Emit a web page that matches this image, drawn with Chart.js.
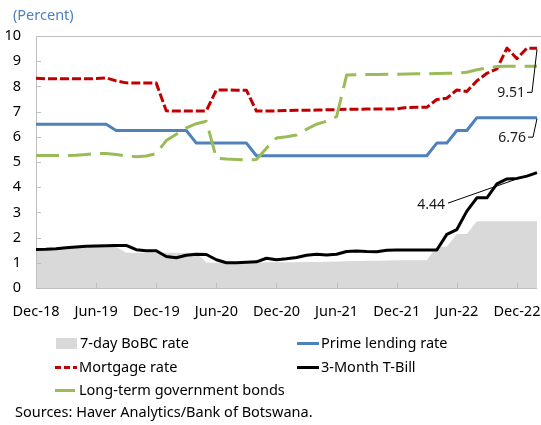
<!DOCTYPE html>
<html>
<head>
<meta charset="utf-8">
<title>Botswana interest rates</title>
<style>
  html, body { margin: 0; padding: 0; background: #ffffff; }
  #wrap { position: relative; width: 541px; height: 425px; overflow: hidden; }
  canvas { display: block; }
</style>
<script src="https://cdn.jsdelivr.net/npm/chart.js@4/dist/chart.umd.min.js"></script>
</head>
<body>
<div id="wrap"><canvas id="chart" width="541" height="425"></canvas></div>
<script>
// Monthly observations, Dec-2018 to Feb-2023 (percent)
const months = [
  'Dec-18',
  'Jan-19','Feb-19','Mar-19','Apr-19','May-19','Jun-19','Jul-19','Aug-19','Sep-19','Oct-19','Nov-19','Dec-19',
  'Jan-20','Feb-20','Mar-20','Apr-20','May-20','Jun-20','Jul-20','Aug-20','Sep-20','Oct-20','Nov-20','Dec-20',
  'Jan-21','Feb-21','Mar-21','Apr-21','May-21','Jun-21','Jul-21','Aug-21','Sep-21','Oct-21','Nov-21','Dec-21',
  'Jan-22','Feb-22','Mar-22','Apr-22','May-22','Jun-22','Jul-22','Aug-22','Sep-22','Oct-22','Nov-22','Dec-22',
  'Jan-23','Feb-23'
];

const bobcRate = [
  1.53, 1.55, 1.57, 1.60, 1.62, 1.63, 1.64, 1.64, 1.64, 1.40,
  1.40, 1.40, 1.40, 1.40, 1.40, 1.40, 1.40, 1.01, 1.00, 1.00,
  1.00, 1.01, 1.01, 1.02, 1.02, 1.02, 1.02, 1.03, 1.03, 1.04,
  1.05, 1.06, 1.07, 1.08, 1.08, 1.09, 1.10, 1.10, 1.10, 1.10,
  1.64, 1.64, 2.14, 2.14, 2.65, 2.65, 2.65, 2.65, 2.65, 2.65, 2.65
];

const primeRate = [
  6.50, 6.50, 6.50, 6.50, 6.50, 6.50, 6.50, 6.50, 6.25, 6.25,
  6.25, 6.25, 6.25, 6.25, 6.25, 6.25, 5.75, 5.75, 5.75, 5.75,
  5.75, 5.75, 5.25, 5.25, 5.25, 5.25, 5.25, 5.25, 5.25, 5.25,
  5.25, 5.25, 5.25, 5.25, 5.25, 5.25, 5.25, 5.25, 5.25, 5.25,
  5.75, 5.75, 6.25, 6.25, 6.76, 6.76, 6.76, 6.76, 6.76, 6.76, 6.76
];

const mortgageRate = [
  8.32, 8.30, 8.30, 8.30, 8.30, 8.30, 8.31, 8.34, 8.22, 8.14,
  8.13, 8.13, 8.13, 7.03, 7.02, 7.02, 7.02, 7.03, 7.86, 7.86,
  7.85, 7.85, 7.02, 7.02, 7.03, 7.04, 7.05, 7.05, 7.06, 7.07,
  7.08, 7.09, 7.09, 7.10, 7.10, 7.10, 7.11, 7.16, 7.17, 7.17,
  7.48, 7.53, 7.86, 7.80, 8.22, 8.52, 8.70, 9.52, 9.10, 9.52, 9.51
];

const tBill3m = [
  1.53, 1.54, 1.56, 1.60, 1.63, 1.66, 1.67, 1.68, 1.69, 1.69,
  1.52, 1.48, 1.48, 1.25, 1.20, 1.30, 1.34, 1.33, 1.12, 1.00,
  1.00, 1.02, 1.04, 1.18, 1.12, 1.16, 1.21, 1.30, 1.34, 1.31,
  1.34, 1.45, 1.47, 1.45, 1.44, 1.50, 1.51, 1.51, 1.51, 1.51,
  1.51, 2.13, 2.32, 3.05, 3.58, 3.58, 4.13, 4.33, 4.35, 4.44, 4.58
];

const longTermBonds = [
  5.26, 5.26, 5.26, 5.26, 5.27, 5.30, 5.33, 5.34, 5.30, 5.24,
  5.21, 5.24, 5.33, 5.85, 6.10, 6.35, 6.52, 6.62, 5.15, 5.12,
  5.10, 5.08, 5.10, 5.55, 5.95, 6.00, 6.07, 6.30, 6.50, 6.62,
  6.80, 8.45, 8.46, 8.47, 8.47, 8.48, 8.48, 8.49, 8.50, 8.50,
  8.51, 8.52, 8.53, 8.56, 8.66, 8.73, 8.79, 8.80, 8.80, 8.80, 8.80
];

const xTickLabels = ['Dec-18','Jun-19','Dec-19','Jun-20','Dec-20','Jun-21','Dec-21','Jun-22','Dec-22'];
const yTickMin = 0;
const yTickMax = 10;
const yTickStep = 1;

const FONT = '"Noto Sans", "Open Sans", sans-serif';
const AXIS_GREY = '#bfbfbf';
const TEXT = '#000000';

const COLORS = {
  bobc: '#d9d9d9',
  prime: '#4f81bd',
  mortgage: '#c00000',
  tbill: '#000000',
  bonds: '#9bbb59'
};

// Plot frame: top rule, axis lines and short inward tick marks.
// Drawn right after the shaded area so the lines sit above it.
const framePlugin = {
  id: 'frame',
  afterDatasetDraw(chart, args) {
    if (args.index !== 0) return;
    const { ctx, chartArea: a, scales: { x, y } } = chart;
    ctx.save();
    ctx.strokeStyle = AXIS_GREY;
    ctx.lineWidth = 1;
    ctx.beginPath();
    const top = Math.round(a.top) + 0.5;
    const left = Math.round(a.left) + 0.5;
    const bottom = Math.round(a.bottom) + 0.5;
    ctx.moveTo(a.left, top); ctx.lineTo(chart.width, top);
    ctx.moveTo(left, a.top); ctx.lineTo(left, a.bottom);
    ctx.moveTo(a.left, bottom); ctx.lineTo(a.right, bottom);
    y.ticks.forEach((t, i) => {
      const py = Math.round(y.getPixelForTick(i)) + 0.5;
      ctx.moveTo(a.left, py); ctx.lineTo(a.left + 5, py);
    });
    x.ticks.forEach((t, i) => {
      if (!xTickLabels.includes(months[i])) return;
      const px = Math.round(x.getPixelForTick(i)) + 0.5;
      ctx.moveTo(px, a.bottom); ctx.lineTo(px, a.bottom - 5);
    });
    ctx.stroke();
    ctx.restore();
  }
};

// End-of-series value labels with thin leader lines.
const valueLabels = [
  { dataset: 2, point: 50, dx: -12, dy: 45, style: 'elbow' },
  { dataset: 1, point: 50, dx: -11, dy: 20.5, style: 'elbow' },
  { dataset: 3, point: 49, dx: -82, dy: 29, style: 'straight' }
];

const labelPlugin = {
  id: 'valueLabels',
  afterDatasetsDraw(chart) {
    const { ctx } = chart;
    ctx.save();
    ctx.font = '14px ' + FONT;
    ctx.fillStyle = '#1a1a1a';
    ctx.strokeStyle = '#000000';
    ctx.lineWidth = 1;
    ctx.textAlign = 'right';
    ctx.textBaseline = 'middle';
    valueLabels.forEach(l => {
      const el = chart.getDatasetMeta(l.dataset).data[l.point];
      const v = chart.data.datasets[l.dataset].data[l.point];
      const tx = el.x + l.dx;
      const ty = el.y + l.dy;
      ctx.fillText(v.toFixed(2), tx, ty);
      ctx.beginPath();
      if (l.style === 'elbow') {
        ctx.moveTo(tx + 2, ty - 1);
        ctx.lineTo(tx + 7, ty - 1);
        ctx.lineTo(el.x, el.y + 1);
      } else {
        ctx.moveTo(tx + 3, ty - 2);
        ctx.lineTo(el.x - 2, el.y);
      }
      ctx.stroke();
    });
    ctx.restore();
  }
};

// Unit note, legend and source line.
const legendItems = [
  { dataset: 0, kind: 'box',  x: 56,  y: 343.5 },
  { dataset: 1, kind: 'line', x: 297, y: 343.5, len: 22 },
  { dataset: 2, kind: 'line', x: 55,  y: 367.5, len: 22, dash: [6, 3] },
  { dataset: 3, kind: 'line', x: 297, y: 367.5, len: 22 },
  { dataset: 4, kind: 'line', x: 55,  y: 390.5, len: 20 }
];

const notesPlugin = {
  id: 'notes',
  afterDraw(chart) {
    const { ctx } = chart;
    ctx.save();
    ctx.textBaseline = 'middle';
    ctx.textAlign = 'left';
    ctx.font = '14.5px ' + FONT;

    ctx.fillStyle = '#4f81bd';
    ctx.fillText('(Percent)', 13, 16);

    legendItems.forEach(it => {
      const ds = chart.data.datasets[it.dataset];
      if (it.kind === 'box') {
        ctx.fillStyle = ds.backgroundColor;
        ctx.fillRect(it.x, it.y - 5.5, 21, 11);
      } else {
        ctx.strokeStyle = ds.borderColor;
        ctx.lineWidth = 3;
        ctx.setLineDash(it.dash || []);
        ctx.beginPath();
        ctx.moveTo(it.x, it.y);
        ctx.lineTo(it.x + it.len, it.y);
        ctx.stroke();
        ctx.setLineDash([]);
      }
      ctx.fillStyle = TEXT;
      ctx.fillText(ds.label, it.x + 24, it.y);
    });

    ctx.fillStyle = TEXT;
    ctx.fillText('Sources: Haver Analytics/Bank of Botswana.', 15, 413);
    ctx.restore();
  }
};

new Chart(document.getElementById('chart').getContext('2d'), {
  type: 'line',
  data: {
    labels: months,
    datasets: [
      {
        label: '7-day BoBC rate', data: bobcRate,
        fill: 'origin', backgroundColor: COLORS.bobc,
        borderColor: 'rgba(0,0,0,0)', borderWidth: 0, order: 5
      },
      {
        label: 'Prime lending rate', data: primeRate,
        borderColor: COLORS.prime, borderWidth: 3, fill: false, order: 4
      },
      {
        label: 'Mortgage rate', data: mortgageRate,
        borderColor: COLORS.mortgage, borderWidth: 3, borderDash: [9, 3], fill: false, order: 3
      },
      {
        label: '3-Month T-Bill', data: tBill3m,
        borderColor: COLORS.tbill, borderWidth: 3, fill: false, order: 2
      },
      {
        label: 'Long-term government bonds', data: longTermBonds,
        borderColor: COLORS.bonds, borderWidth: 3, borderDash: [23, 9], fill: false, order: 1
      }
    ]
  },
  options: {
    responsive: false,
    animation: false,
    devicePixelRatio: 1,
    layout: { padding: { left: 0, right: 4, top: 36, bottom: 0 } },
    elements: {
      point: { radius: 0, hoverRadius: 0 },
      line: { tension: 0, borderJoinStyle: 'round', borderCapStyle: 'butt' }
    },
    plugins: {
      legend: { display: false },
      tooltip: { enabled: false },
      title: { display: false }
    },
    scales: {
      x: {
        type: 'category',
        offset: false,
        grid: { display: false, drawTicks: false },
        border: { display: false },
        ticks: {
          autoSkip: false,
          maxRotation: 0,
          minRotation: 0,
          padding: 15,
          color: TEXT,
          font: { family: FONT, size: 14.5 },
          callback: (value, index) => xTickLabels.includes(months[index]) ? months[index] : ''
        },
        afterFit(scale) {
          scale.height = 137;
          scale.paddingLeft = 0;
          scale.paddingRight = 0;
        }
      },
      y: {
        min: yTickMin,
        max: yTickMax,
        grid: { display: false, drawTicks: false },
        border: { display: false },
        ticks: {
          stepSize: yTickStep,
          padding: 15,
          color: TEXT,
          font: { family: FONT, size: 14.5 }
        },
        afterFit(scale) { scale.width = 36; }
      }
    }
  },
  plugins: [framePlugin, labelPlugin, notesPlugin]
});
</script>
</body>
</html>
